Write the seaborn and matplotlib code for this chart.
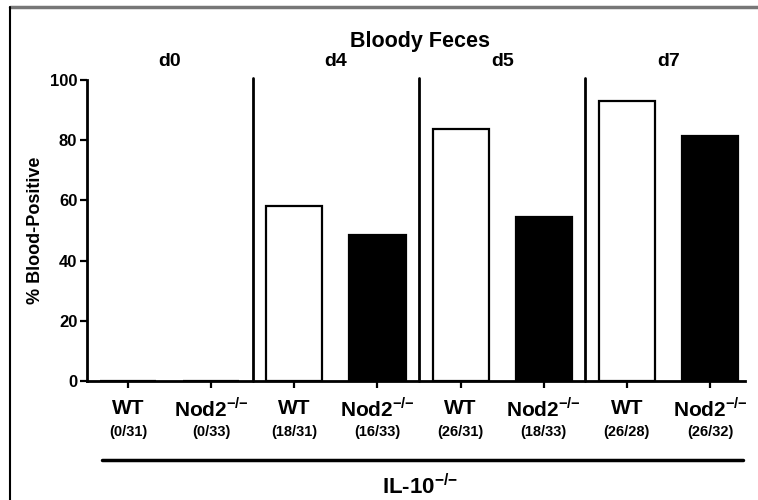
import matplotlib
matplotlib.use('Agg')
import matplotlib.pyplot as plt
from matplotlib.lines import Line2D
import seaborn as sns
import pandas as pd

# Data
days = ['d0', 'd0', 'd4', 'd4', 'd5', 'd5', 'd7', 'd7']
genotype = ['WT', 'Nod2', 'WT', 'Nod2', 'WT', 'Nod2', 'WT', 'Nod2']
positive = [0, 0, 18, 16, 26, 18, 26, 26]
total = [31, 33, 31, 33, 31, 33, 28, 32]
day_labels = ['d0', 'd4', 'd5', 'd7']
yticks = [0, 20, 40, 60, 80, 100]

df = pd.DataFrame({'day': days, 'genotype': genotype,
                   'positive': positive, 'total': total})
df['group'] = df['day'] + ' ' + df['genotype']
df['percent'] = df['positive'] / df['total'] * 100

sns.set_style('ticks')
plt.rcParams['font.family'] = ['Liberation Sans', 'DejaVu Sans']
plt.rcParams['font.weight'] = 'bold'
plt.rcParams['text.color'] = 'black'
plt.rcParams['axes.labelcolor'] = 'black'
plt.rcParams['xtick.color'] = 'black'
plt.rcParams['ytick.color'] = 'black'
plt.rcParams['mathtext.fontset'] = 'custom'
plt.rcParams['mathtext.rm'] = 'Liberation Sans:bold'
plt.rcParams['mathtext.bf'] = 'Liberation Sans:bold'

fig = plt.figure(figsize=(7.58, 5.0), dpi=100)
ax = fig.add_axes([87 / 758, 1 - 381 / 500, (745 - 87) / 758, (381 - 80) / 500])

sns.barplot(data=df, x='group', y='percent', hue='genotype',
            palette={'WT': 'white', 'Nod2': 'black'}, dodge=False,
            width=0.675, edgecolor='black', linewidth=1.6,
            errorbar=None, legend=False, ax=ax)

ax.set_xlim(-0.493, 7.42)
ax.set_ylim(0, 100)
ax.set_yticks(yticks)
ax.set_yticklabels([str(t) for t in yticks], fontsize=12, fontweight='bold')
ax.set_xticks(range(len(df)))
ax.set_xticklabels([''] * len(df))
ax.tick_params(axis='both', direction='out', length=5, width=1.6, color='black', pad=2)
ax.set_xlabel('')
ax.set_ylabel('% Blood-Positive', fontsize=13, fontweight='bold', labelpad=4)
for side in ['top', 'right']:
    ax.spines[side].set_visible(False)
for side in ['left', 'bottom']:
    ax.spines[side].set_linewidth(2)
    ax.spines[side].set_color('black')

# separators between days
for i in range(1, len(day_labels)):
    ax.axvline(2 * i - 0.5, ymin=0, ymax=1.007, color='black', lw=2, clip_on=False)

# day labels
for i, d in enumerate(day_labels):
    ax.text(2 * i + 0.5, 1.063, d, transform=ax.get_xaxis_transform(),
            ha='center', va='center', fontsize=14, fontweight='bold')

# category labels
for i, row in df.iterrows():
    name = 'WT' if row['genotype'] == 'WT' else r'Nod2$^{{-}/{-}}$'
    ax.annotate(name, xy=(i, 0), xycoords=('data', 'axes fraction'),
                xytext=(0, -20), textcoords='offset points',
                ha='center', va='center', fontsize=15, fontweight='bold')
    ax.annotate(f"({row['positive']}/{row['total']})", xy=(i, 0),
                xycoords=('data', 'axes fraction'),
                xytext=(0, -37), textcoords='offset points',
                ha='center', va='center', fontsize=10.5, fontweight='bold')

fig.text(420 / 758, 1 - 41 / 500, 'Bloody Feces', ha='center', va='center',
         fontsize=15.5, fontweight='bold')
fig.text(420 / 758, 1 - 487 / 500, r'IL-10$^{{-}/{-}}$', ha='center', va='center',
         fontsize=16, fontweight='bold')

# underline spanning the groups
fig.add_artist(Line2D([102 / 758, 743 / 758], [1 - 460 / 500] * 2,
                      color='black', lw=2.5))
# frame lines of the panel
fig.add_artist(Line2D([10 / 758, 1], [1 - 7 / 500] * 2, color='#777777', lw=2.5))
fig.add_artist(Line2D([10 / 758] * 2, [0, 1 - 7 / 500], color='black', lw=1.5))

fig.savefig('out.png', dpi=100)
